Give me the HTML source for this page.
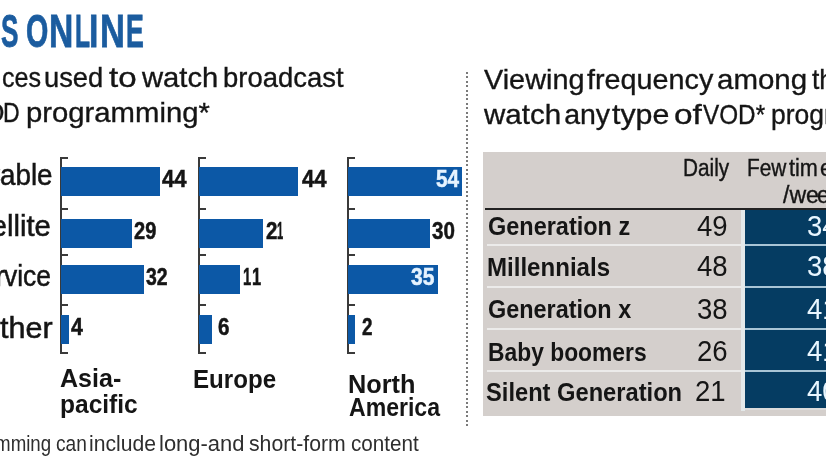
<!DOCTYPE html>
<html><head><meta charset="utf-8"><style>
html,body{margin:0;padding:0;}
body{width:826px;height:465px;overflow:hidden;position:relative;background:#fff;filter:blur(0.3px);font-family:"Liberation Sans",sans-serif;}
.t{position:absolute;white-space:nowrap;transform-origin:0 0;}
.r{position:absolute;}
</style></head><body>
<div class="r" style="left:60px;top:157px;width:2px;height:196.5px;background:#3a3a3a;"></div>
<div class="r" style="left:60px;top:157px;width:8px;height:2px;background:#3a3a3a;"></div>
<div class="r" style="left:60px;top:207.5px;width:8px;height:2px;background:#3a3a3a;"></div>
<div class="r" style="left:60px;top:254px;width:8px;height:2px;background:#3a3a3a;"></div>
<div class="r" style="left:60px;top:304px;width:8px;height:2px;background:#3a3a3a;"></div>
<div class="r" style="left:60px;top:351.5px;width:8px;height:2px;background:#3a3a3a;"></div>
<div class="r" style="left:61px;top:167px;width:99.4px;height:29.2px;background:#0c58a6;"></div>
<div class="r" style="left:61px;top:219px;width:71.4px;height:29.2px;background:#0c58a6;"></div>
<div class="r" style="left:61px;top:265.3px;width:83.2px;height:29.2px;background:#0c58a6;"></div>
<div class="r" style="left:61px;top:315px;width:8.4px;height:29.2px;background:#0c58a6;"></div>
<div class="r" style="left:198px;top:157px;width:2px;height:196.5px;background:#3a3a3a;"></div>
<div class="r" style="left:198px;top:157px;width:8px;height:2px;background:#3a3a3a;"></div>
<div class="r" style="left:198px;top:207.5px;width:8px;height:2px;background:#3a3a3a;"></div>
<div class="r" style="left:198px;top:254px;width:8px;height:2px;background:#3a3a3a;"></div>
<div class="r" style="left:198px;top:304px;width:8px;height:2px;background:#3a3a3a;"></div>
<div class="r" style="left:198px;top:351.5px;width:8px;height:2px;background:#3a3a3a;"></div>
<div class="r" style="left:199px;top:167px;width:98.8px;height:29.2px;background:#0c58a6;"></div>
<div class="r" style="left:199px;top:219px;width:64.0px;height:29.2px;background:#0c58a6;"></div>
<div class="r" style="left:199px;top:265.3px;width:41.1px;height:29.2px;background:#0c58a6;"></div>
<div class="r" style="left:199px;top:315px;width:12.9px;height:29.2px;background:#0c58a6;"></div>
<div class="r" style="left:346.5px;top:157px;width:2px;height:196.5px;background:#3a3a3a;"></div>
<div class="r" style="left:346.5px;top:157px;width:8px;height:2px;background:#3a3a3a;"></div>
<div class="r" style="left:346.5px;top:207.5px;width:8px;height:2px;background:#3a3a3a;"></div>
<div class="r" style="left:346.5px;top:254px;width:8px;height:2px;background:#3a3a3a;"></div>
<div class="r" style="left:346.5px;top:304px;width:8px;height:2px;background:#3a3a3a;"></div>
<div class="r" style="left:346.5px;top:351.5px;width:8px;height:2px;background:#3a3a3a;"></div>
<div class="r" style="left:347.5px;top:167px;width:114.6px;height:29.2px;background:#0c58a6;"></div>
<div class="r" style="left:347.5px;top:219px;width:82.2px;height:29.2px;background:#0c58a6;"></div>
<div class="r" style="left:347.5px;top:265.3px;width:90.1px;height:29.2px;background:#0c58a6;"></div>
<div class="r" style="left:347.5px;top:315px;width:7.8px;height:29.2px;background:#0c58a6;"></div>
<div class="r" style="left:466px;top:72px;width:2px;height:354px;background:repeating-linear-gradient(to bottom,#7a7a7a 0 2px,transparent 2px 4.4px);"></div>
<div class="r" style="left:482.5px;top:151.5px;width:343.5px;height:264.5px;background:#d4cfcc;"></div>
<div class="r" style="left:741px;top:209.5px;width:4px;height:201px;background:#e4e9ea;"></div>
<div class="r" style="left:745px;top:209.5px;width:81px;height:199px;background:#053c62;"></div>
<div class="r" style="left:745px;top:408.4px;width:81px;height:2px;background:#dcdcdc;"></div>
<div class="r" style="left:485px;top:208px;width:341px;height:2px;background:#222;"></div>
<div class="r" style="left:487px;top:244.3px;width:254px;height:2px;background:#ecebea;"></div>
<div class="r" style="left:745px;top:244.3px;width:81px;height:2px;background:#a9c5d6;"></div>
<div class="r" style="left:487px;top:286.3px;width:254px;height:2px;background:#ecebea;"></div>
<div class="r" style="left:745px;top:286.3px;width:81px;height:2px;background:#a9c5d6;"></div>
<div class="r" style="left:487px;top:328.1px;width:254px;height:2px;background:#ecebea;"></div>
<div class="r" style="left:745px;top:328.1px;width:81px;height:2px;background:#a9c5d6;"></div>
<div class="r" style="left:487px;top:369.9px;width:254px;height:2px;background:#ecebea;"></div>
<div class="r" style="left:745px;top:369.9px;width:81px;height:2px;background:#a9c5d6;"></div>
<div class="t" style="left:1.26px;top:7.84px;font-size:46.5px;line-height:46.5px;font-weight:bold;color:#1b5c9f;transform:scaleX(0.5622);-webkit-text-stroke:0.8px #1b5c9f;">S</div>
<div class="t" style="left:26.17px;top:7.84px;font-size:46.5px;line-height:46.5px;font-weight:bold;color:#1b5c9f;transform:scaleX(0.6171);-webkit-text-stroke:0.8px #1b5c9f;">O</div>
<div class="t" style="left:49.43px;top:7.84px;font-size:46.5px;line-height:46.5px;font-weight:bold;color:#1b5c9f;transform:scaleX(0.7236);-webkit-text-stroke:0.8px #1b5c9f;">N</div>
<div class="t" style="left:74.91px;top:7.84px;font-size:46.5px;line-height:46.5px;font-weight:bold;color:#1b5c9f;transform:scaleX(0.5292);-webkit-text-stroke:0.8px #1b5c9f;">L</div>
<div class="t" style="left:89.12px;top:7.84px;font-size:46.5px;line-height:46.5px;font-weight:bold;color:#1b5c9f;transform:scaleX(0.7259);-webkit-text-stroke:0.8px #1b5c9f;">I</div>
<div class="t" style="left:99.87px;top:7.84px;font-size:46.5px;line-height:46.5px;font-weight:bold;color:#1b5c9f;transform:scaleX(0.7418);-webkit-text-stroke:0.8px #1b5c9f;">N</div>
<div class="t" style="left:125.57px;top:7.84px;font-size:46.5px;line-height:46.5px;font-weight:bold;color:#1b5c9f;transform:scaleX(0.5752);-webkit-text-stroke:0.8px #1b5c9f;">E</div>
<div class="t" style="left:2.18px;top:64.10px;font-size:28px;line-height:28px;font-weight:normal;color:#151515;transform:scaleX(0.8970);-webkit-text-stroke:0.35px #151515;">ces</div>
<div class="t" style="left:44.09px;top:64.10px;font-size:28px;line-height:28px;font-weight:normal;color:#151515;transform:scaleX(0.9764);-webkit-text-stroke:0.35px #151515;">used</div>
<div class="t" style="left:108.61px;top:64.10px;font-size:28px;line-height:28px;font-weight:normal;color:#151515;transform:scaleX(1.1816);-webkit-text-stroke:0.35px #151515;">to</div>
<div class="t" style="left:141.60px;top:64.10px;font-size:28px;line-height:28px;font-weight:normal;color:#151515;transform:scaleX(1.0428);-webkit-text-stroke:0.35px #151515;">watch</div>
<div class="t" style="left:223.48px;top:64.10px;font-size:28px;line-height:28px;font-weight:normal;color:#151515;transform:scaleX(0.9802);-webkit-text-stroke:0.35px #151515;">broadcast</div>
<div class="t" style="left:-34.15px;top:98.90px;font-size:28px;line-height:28px;font-weight:normal;color:#151515;transform:scaleX(0.9500);-webkit-text-stroke:0.35px #151515;">VO</div>
<div class="t" style="left:3.45px;top:98.90px;font-size:28px;line-height:28px;font-weight:normal;color:#151515;transform:scaleX(0.8242);-webkit-text-stroke:0.35px #151515;">D</div>
<div class="t" style="left:26.17px;top:98.90px;font-size:28px;line-height:28px;font-weight:normal;color:#151515;transform:scaleX(1.0455);-webkit-text-stroke:0.35px #151515;">programming*</div>
<div class="t" style="left:483.65px;top:65.47px;font-size:28.5px;line-height:28.5px;font-weight:normal;color:#151515;transform:scaleX(1.0118);-webkit-text-stroke:0.35px #151515;">Viewing</div>
<div class="t" style="left:586.90px;top:65.47px;font-size:28.5px;line-height:28.5px;font-weight:normal;color:#151515;transform:scaleX(1.0088);-webkit-text-stroke:0.35px #151515;">frequency</div>
<div class="t" style="left:717.01px;top:65.47px;font-size:28.5px;line-height:28.5px;font-weight:normal;color:#151515;transform:scaleX(1.0345);-webkit-text-stroke:0.35px #151515;">among</div>
<div class="t" style="left:811.63px;top:65.47px;font-size:28.5px;line-height:28.5px;font-weight:normal;color:#151515;transform:scaleX(0.9300);-webkit-text-stroke:0.35px #151515;">those who</div>
<div class="t" style="left:483.90px;top:100.47px;font-size:28.5px;line-height:28.5px;font-weight:normal;color:#151515;transform:scaleX(1.0372);-webkit-text-stroke:0.35px #151515;">watch</div>
<div class="t" style="left:564.15px;top:100.47px;font-size:28.5px;line-height:28.5px;font-weight:normal;color:#151515;transform:scaleX(1.0000);-webkit-text-stroke:0.35px #151515;">any</div>
<div class="t" style="left:612.07px;top:100.47px;font-size:28.5px;line-height:28.5px;font-weight:normal;color:#151515;transform:scaleX(1.0654);-webkit-text-stroke:0.35px #151515;">type</div>
<div class="t" style="left:674.23px;top:100.47px;font-size:28.5px;line-height:28.5px;font-weight:normal;color:#151515;transform:scaleX(1.1733);-webkit-text-stroke:0.35px #151515;">of</div>
<div class="t" style="left:702.79px;top:100.47px;font-size:28.5px;line-height:28.5px;font-weight:normal;color:#151515;transform:scaleX(0.8528);-webkit-text-stroke:0.35px #151515;">VOD*</div>
<div class="t" style="left:771.27px;top:100.47px;font-size:28.5px;line-height:28.5px;font-weight:normal;color:#151515;transform:scaleX(0.9300);-webkit-text-stroke:0.35px #151515;">programming</div>
<div class="t" style="left:-18.66px;top:161.15px;font-size:29px;line-height:29px;font-weight:normal;color:#151515;transform:scaleX(0.9700);-webkit-text-stroke:0.5px #151515;">C</div>
<div class="t" style="left:0.30px;top:161.15px;font-size:29px;line-height:29px;font-weight:normal;color:#151515;transform:scaleX(0.9589);-webkit-text-stroke:0.5px #151515;">able</div>
<div class="t" style="left:-51.20px;top:212.05px;font-size:29px;line-height:29px;font-weight:normal;color:#151515;transform:scaleX(0.9700);-webkit-text-stroke:0.5px #151515;">Sate</div>
<div class="t" style="left:7.38px;top:212.05px;font-size:29px;line-height:29px;font-weight:normal;color:#151515;transform:scaleX(1.0087);-webkit-text-stroke:0.5px #151515;">llite</div>
<div class="t" style="left:-38.91px;top:262.45px;font-size:29px;line-height:29px;font-weight:normal;color:#151515;transform:scaleX(0.9700);-webkit-text-stroke:0.5px #151515;">Ser</div>
<div class="t" style="left:4.27px;top:262.45px;font-size:29px;line-height:29px;font-weight:normal;color:#151515;transform:scaleX(0.9100);-webkit-text-stroke:0.5px #151515;">vice</div>
<div class="t" style="left:-21.11px;top:313.55px;font-size:29px;line-height:29px;font-weight:normal;color:#151515;transform:scaleX(0.9700);-webkit-text-stroke:0.5px #151515;">O</div>
<div class="t" style="left:-0.23px;top:313.55px;font-size:29px;line-height:29px;font-weight:normal;color:#151515;transform:scaleX(1.0531);-webkit-text-stroke:0.5px #151515;">ther</div>
<div class="t" style="left:161.66px;top:168.03px;font-size:23px;line-height:23px;font-weight:bold;color:#151515;transform:scaleX(0.9584);-webkit-text-stroke:0.5px #151515;">44</div>
<div class="t" style="left:134.45px;top:220.03px;font-size:23px;line-height:23px;font-weight:bold;color:#151515;transform:scaleX(0.8708);-webkit-text-stroke:0.5px #151515;">29</div>
<div class="t" style="left:146.28px;top:266.33px;font-size:23px;line-height:23px;font-weight:bold;color:#151515;transform:scaleX(0.8454);-webkit-text-stroke:0.5px #151515;">32</div>
<div class="t" style="left:71.37px;top:316.03px;font-size:23px;line-height:23px;font-weight:bold;color:#151515;transform:scaleX(0.9280);-webkit-text-stroke:0.5px #151515;">4</div>
<div class="t" style="left:302.26px;top:168.03px;font-size:23px;line-height:23px;font-weight:bold;color:#151515;transform:scaleX(0.9584);-webkit-text-stroke:0.5px #151515;">44</div>
<div class="t" style="left:266.43px;top:220.03px;font-size:23px;line-height:23px;font-weight:bold;color:#151515;transform:scaleX(0.8909);-webkit-text-stroke:0.5px #151515;">2</div>
<div class="t" style="left:277.07px;top:220.03px;font-size:23px;line-height:23px;font-weight:bold;color:#151515;transform:scaleX(0.4837);-webkit-text-stroke:0.5px #151515;">1</div>
<div class="t" style="left:243.34px;top:266.33px;font-size:23px;line-height:23px;font-weight:bold;color:#151515;transform:scaleX(0.6419);-webkit-text-stroke:0.5px #151515;">1</div>
<div class="t" style="left:251.83px;top:266.33px;font-size:23px;line-height:23px;font-weight:bold;color:#151515;transform:scaleX(0.7163);-webkit-text-stroke:0.5px #151515;">1</div>
<div class="t" style="left:217.83px;top:316.03px;font-size:23px;line-height:23px;font-weight:bold;color:#151515;transform:scaleX(0.8978);-webkit-text-stroke:0.5px #151515;">6</div>
<div class="t" style="left:436.22px;top:168.03px;font-size:23px;line-height:23px;font-weight:bold;color:#e6f3ff;transform:scaleX(0.9010);-webkit-text-stroke:0.5px #e6f3ff;">54</div>
<div class="t" style="left:432.25px;top:220.03px;font-size:23px;line-height:23px;font-weight:bold;color:#151515;transform:scaleX(0.8948);-webkit-text-stroke:0.5px #151515;">30</div>
<div class="t" style="left:410.74px;top:266.33px;font-size:23px;line-height:23px;font-weight:bold;color:#e6f3ff;transform:scaleX(0.9143);-webkit-text-stroke:0.5px #e6f3ff;">35</div>
<div class="t" style="left:361.59px;top:316.03px;font-size:23px;line-height:23px;font-weight:bold;color:#151515;transform:scaleX(0.8182);-webkit-text-stroke:0.5px #151515;">2</div>
<div class="t" style="left:59.77px;top:366.23px;font-size:25.6px;line-height:25.6px;font-weight:bold;color:#151515;transform:scaleX(0.9794);">Asia-</div>
<div class="t" style="left:59.62px;top:392.33px;font-size:25.6px;line-height:25.6px;font-weight:bold;color:#151515;transform:scaleX(0.9592);">pacific</div>
<div class="t" style="left:192.88px;top:365.69px;font-size:26px;line-height:26px;font-weight:bold;color:#151515;transform:scaleX(0.9276);">Europe</div>
<div class="t" style="left:348.23px;top:371.74px;font-size:25px;line-height:25px;font-weight:bold;color:#151515;transform:scaleX(1.0119);">North</div>
<div class="t" style="left:349.31px;top:395.04px;font-size:25px;line-height:25px;font-weight:bold;color:#151515;transform:scaleX(0.9224);">America</div>
<div class="t" style="left:-59.11px;top:433.38px;font-size:22px;line-height:22px;font-weight:normal;color:#2e2e2e;transform:scaleX(0.8500);">programming</div>
<div class="t" style="left:55.63px;top:433.38px;font-size:22px;line-height:22px;font-weight:normal;color:#2e2e2e;transform:scaleX(0.8697);">can</div>
<div class="t" style="left:89.36px;top:433.38px;font-size:22px;line-height:22px;font-weight:normal;color:#2e2e2e;transform:scaleX(0.9606);">include</div>
<div class="t" style="left:159.40px;top:433.38px;font-size:22px;line-height:22px;font-weight:normal;color:#2e2e2e;transform:scaleX(0.9982);">long-and</div>
<div class="t" style="left:248.58px;top:433.38px;font-size:22px;line-height:22px;font-weight:normal;color:#2e2e2e;transform:scaleX(0.9653);">short-form</div>
<div class="t" style="left:350.86px;top:433.38px;font-size:22px;line-height:22px;font-weight:normal;color:#2e2e2e;transform:scaleX(0.9380);">content</div>
<div class="t" style="left:682.92px;top:155.89px;font-size:24.7px;line-height:24.7px;font-weight:normal;color:#151515;transform:scaleX(0.8417);-webkit-text-stroke:0.4px #151515;">Daily</div>
<div class="t" style="left:746.51px;top:156.09px;font-size:24.7px;line-height:24.7px;font-weight:normal;color:#151515;transform:scaleX(0.8447);-webkit-text-stroke:0.4px #151515;">Few</div>
<div class="t" style="left:788.56px;top:156.09px;font-size:24.7px;line-height:24.7px;font-weight:normal;color:#151515;transform:scaleX(0.8780);-webkit-text-stroke:0.4px #151515;">tim</div>
<div class="t" style="left:819.60px;top:156.09px;font-size:24.7px;line-height:24.7px;font-weight:normal;color:#151515;transform:scaleX(0.9000);-webkit-text-stroke:0.4px #151515;">es</div>
<div class="t" style="left:782.50px;top:183.29px;font-size:24.7px;line-height:24.7px;font-weight:normal;color:#151515;transform:scaleX(0.9342);-webkit-text-stroke:0.4px #151515;">/we</div>
<div class="t" style="left:817.40px;top:183.29px;font-size:24.7px;line-height:24.7px;font-weight:normal;color:#151515;transform:scaleX(0.9000);-webkit-text-stroke:0.4px #151515;">ek</div>
<div class="t" style="left:487.82px;top:213.40px;font-size:26.7px;line-height:26.7px;font-weight:bold;color:#151515;transform:scaleX(0.8795);">Generation z</div>
<div class="t" style="left:697.29px;top:211.75px;font-size:29px;line-height:29px;font-weight:normal;color:#151515;transform:scaleX(0.9500);">49</div>
<div class="t" style="left:806.51px;top:211.75px;font-size:29px;line-height:29px;font-weight:normal;color:#e8f6ff;transform:scaleX(0.9500);">34</div>
<div class="t" style="left:487.42px;top:253.90px;font-size:26.7px;line-height:26.7px;font-weight:bold;color:#151515;transform:scaleX(0.9019);">Millennials</div>
<div class="t" style="left:697.05px;top:252.25px;font-size:29px;line-height:29px;font-weight:normal;color:#151515;transform:scaleX(0.9500);">48</div>
<div class="t" style="left:806.51px;top:252.25px;font-size:29px;line-height:29px;font-weight:normal;color:#e8f6ff;transform:scaleX(0.9500);">38</div>
<div class="t" style="left:488.42px;top:296.40px;font-size:26.7px;line-height:26.7px;font-weight:bold;color:#151515;transform:scaleX(0.8779);">Generation x</div>
<div class="t" style="left:697.05px;top:294.75px;font-size:29px;line-height:29px;font-weight:normal;color:#151515;transform:scaleX(0.9500);">38</div>
<div class="t" style="left:806.99px;top:294.75px;font-size:29px;line-height:29px;font-weight:normal;color:#e8f6ff;transform:scaleX(0.9500);">41</div>
<div class="t" style="left:487.80px;top:339.00px;font-size:26.7px;line-height:26.7px;font-weight:bold;color:#151515;transform:scaleX(0.8559);">Baby boomers</div>
<div class="t" style="left:697.05px;top:337.35px;font-size:29px;line-height:29px;font-weight:normal;color:#151515;transform:scaleX(0.9500);">26</div>
<div class="t" style="left:806.99px;top:337.35px;font-size:29px;line-height:29px;font-weight:normal;color:#e8f6ff;transform:scaleX(0.9500);">41</div>
<div class="t" style="left:486.03px;top:378.90px;font-size:26.7px;line-height:26.7px;font-weight:bold;color:#151515;transform:scaleX(0.8874);">Silent Generation</div>
<div class="t" style="left:694.99px;top:377.25px;font-size:29px;line-height:29px;font-weight:normal;color:#151515;transform:scaleX(0.9500);">21</div>
<div class="t" style="left:806.99px;top:377.25px;font-size:29px;line-height:29px;font-weight:normal;color:#e8f6ff;transform:scaleX(0.9500);">40</div>
</body></html>
